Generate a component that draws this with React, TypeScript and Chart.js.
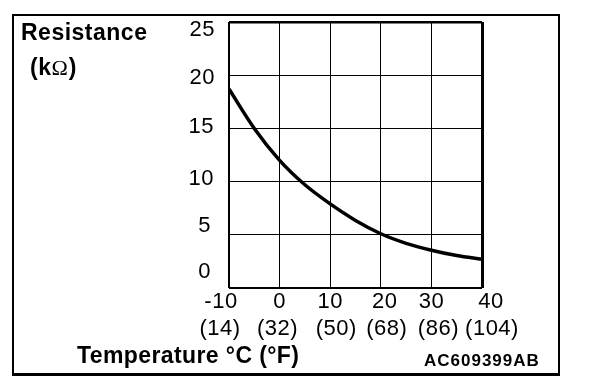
import React, { useEffect, useRef } from "react";
import { Chart, registerables } from "chart.js";

Chart.register(...registerables);

// Data
const temperaturesC = [-10, -5, 0, 5, 10, 15, 20, 25, 30, 35, 40];
const resistanceK = [18.7, 15.0, 12.0, 9.7, 7.9, 6.35, 5.1, 4.2, 3.55, 3.05, 2.7];
const xTickValues = [-10, 0, 10, 20, 30, 40];
const xTickLabelsC = ["-10", "0", "10", "20", "30", "40"];
const xTickLabelsF = ["(14)", "(32)", "(50)", "(68)", "(86)", "(104)"];
const yTickValues = [25, 20, 15, 10, 5, 0];
const yTickLabels = ["25", "20", "15", "10", "5", "0"];
const yTitleLine1 = "Resistance";
const yTitleLine2 = ["(k", "Ω", ")"];
const xTitle = "Temperature °C (°F)";
const figureCode = "AC609399AB";

// label placement nudges (pixels) relative to scale positions
const yLabelNudgeY = [8, 2.5, -1, -2.5, -9, -16];
const yLabelNudgeX = [0, 0, -1, -1, -4, -4];
const xLabelNudge1 = [-8, 0, 0, 4, 0, 9];
const xLabelNudge2 = [-9, -2, 6, 6, 7, 10];

const SANS = "'Liberation Sans', Arial, sans-serif";
const SERIF = "'Liberation Serif', 'Times New Roman', serif";

const textPlugin = {
  id: "customText",
  afterDraw(chart: any) {
    const ctx = chart.ctx as any;
    const xs = chart.scales.x;
    const ys = chart.scales.y;
    const area = chart.chartArea;
    ctx.save();
    ctx.fillStyle = "#000";
    ctx.strokeStyle = "#000";

    // outer frame
    ctx.lineWidth = 2;
    ctx.strokeRect(13, 15, 546, 359);
    ctx.lineWidth = 3;
    ctx.beginPath();
    ctx.moveTo(12, 374.5);
    ctx.lineTo(560, 374.5);
    ctx.stroke();

    // y tick labels
    ctx.font = `22px ${SANS}`;
    ctx.letterSpacing = "0.5px";
    ctx.textAlign = "right";
    ctx.textBaseline = "middle";
    yTickValues.forEach((v, i) => {
      const y = ys.getPixelForValue(v) + yLabelNudgeY[i];
      ctx.fillText(yTickLabels[i], area.left - 14 + yLabelNudgeX[i], y);
    });

    // x tick labels
    ctx.textAlign = "center";
    xTickValues.forEach((v, i) => {
      const x = xs.getPixelForValue(v);
      ctx.fillText(xTickLabelsC[i], x + xLabelNudge1[i], area.bottom + 14);
      ctx.fillText(xTickLabelsF[i], x + xLabelNudge2[i], area.bottom + 41);
    });

    // titles
    ctx.textAlign = "left";
    ctx.textBaseline = "alphabetic";
    ctx.font = `bold 23px ${SANS}`;
    ctx.letterSpacing = "0.5px";
    ctx.fillText(yTitleLine1, 21, 40);

    let px = 30;
    ctx.fillText(yTitleLine2[0], px, 75);
    px += ctx.measureText(yTitleLine2[0]).width;
    ctx.font = `22px ${SERIF}`;
    ctx.letterSpacing = "0px";
    ctx.fillText(yTitleLine2[1], px, 75);
    px += ctx.measureText(yTitleLine2[1]).width + 1;
    ctx.font = `bold 23px ${SANS}`;
    ctx.letterSpacing = "0.5px";
    ctx.fillText(yTitleLine2[2], px, 75);

    ctx.letterSpacing = "0.4px";
    ctx.fillText(xTitle, 77, 363);

    ctx.font = `bold 17px ${SANS}`;
    ctx.letterSpacing = "1px";
    ctx.fillText(figureCode, 424, 366);

    ctx.restore();
  },
};

export default function App() {
  const ref = useRef<HTMLCanvasElement | null>(null);

  useEffect(() => {
    if (!ref.current) return;
    const chart = new Chart(ref.current, {
      type: "line",
      data: {
        datasets: [
          {
            data: temperaturesC.map((t, i) => ({ x: t, y: resistanceK[i] })),
            borderColor: "#000",
            borderWidth: 3.5,
            borderCapStyle: "butt",
            borderJoinStyle: "round",
            pointRadius: 0,
            fill: false,
            tension: 0.35,
          },
        ],
      },
      options: {
        responsive: false,
        animation: false,
        devicePixelRatio: 1,
        layout: { padding: { left: 229, right: 126, top: 22, bottom: 102 } },
        plugins: {
          legend: { display: false },
          tooltip: { enabled: false },
          title: { display: false },
        },
        scales: {
          x: {
            type: "linear",
            min: -10,
            max: 40,
            ticks: { display: false, stepSize: 10 },
            border: { display: false },
            grid: {
              color: "#000",
              drawTicks: false,
              lineWidth: (c: any) =>
                c.tick && c.tick.value === -10 ? 2 : c.tick && c.tick.value === 40 ? 3 : 1,
            },
            afterFit: (s: any) => {
              s.height = 0;
            },
          },
          y: {
            type: "linear",
            min: 0,
            max: 25,
            ticks: { display: false, stepSize: 5 },
            border: { display: false },
            grid: {
              color: "#000",
              drawTicks: false,
              lineWidth: (c: any) =>
                c.tick && c.tick.value === 0 ? 2 : c.tick && c.tick.value === 25 ? 2.5 : 1,
            },
            afterFit: (s: any) => {
              s.width = 0;
            },
          },
        },
      },
      plugins: [textPlugin],
    } as any);
    return () => chart.destroy();
  }, []);

  return (
    <div style={{ position: "absolute", left: 0, top: 0, width: 608, height: 390, background: "#fff" }}>
      <canvas ref={ref} width={608} height={390} style={{ display: "block" }} />
    </div>
  );
}
